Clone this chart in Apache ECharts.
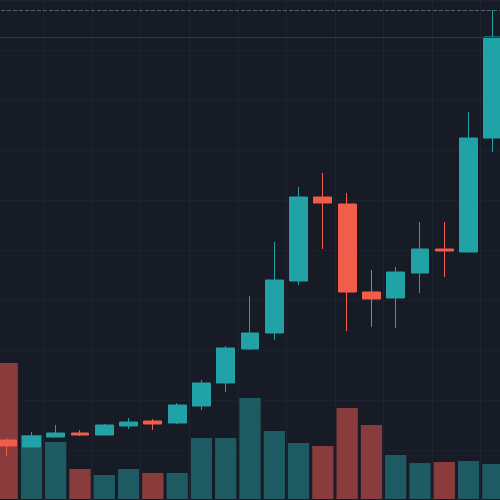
<!DOCTYPE html><html><head><meta charset="utf-8">
<script src="https://cdn.jsdelivr.net/npm/echarts@6/dist/echarts.min.js"></script>
<style>html,body{margin:0;background:#171b26;overflow:hidden}#c{width:510px;height:500px;margin-left:-5px}</style></head><body><div id="c"></div>
<script>
const categories = Array.from({length:21},(_,i)=>'D'+(i+1));
// [open, close, low, high] in price units
const candles = [
 [60,54,44,62],[53,64,53,68],[63,67,63,75],[67,65,64,70],[65,75,65,76],
 [74,78,71,82],[79,76,70,81],[77,95,76,97],[94,117,90,120],[117,152,108,154],
 [151,167,150,204],[167,220,160,258],[219,303,215,313],[303,297,251,327],[296,208,169,307],
 [208,201,173,230],[202,228,172,233],[227,251,207,278],[251,249,223,278],[248,362,248,388],[362,463,348,490]
];
const volumes = [138,66,59,32,26,32,28,28,63,63,103,70,58,55,93,76,46,38,39,40,37];
const up = candles.map(c=>c[1]>=c[0]);
const chart = echarts.init(document.getElementById('c'));
chart.setOption({
 backgroundColor:'#171b26', animation:false,
 grid:{left:0,right:0,top:0,bottom:0},
 xAxis:{type:'category',data:categories,axisLine:{show:false},axisTick:{show:false},axisLabel:{show:false},
   splitLine:{show:true,interval:1,lineStyle:{color:'#1e2330'}}},
 yAxis:[{min:0,max:500,interval:50,axisLabel:{show:false},axisLine:{show:false},splitLine:{lineStyle:{color:'#1c212d'}}},
        {min:0,max:500,show:false}],
 series:[
  {type:'bar',yAxisIndex:1,data:volumes.map((v,i)=>({value:v,itemStyle:{color:up[i]?'#1d5a62':'#8a3b3b'}})),barCategoryGap:'4%',itemStyle:{borderColor:'#171b26',borderWidth:1}},
  {type:'candlestick',data:candles,barWidth:'76%',
   itemStyle:{color:'#21a2a6',color0:'#f25c4b',borderColor:'#21a2a6',borderColor0:'#f25c4b'},
   markLine:{symbol:'none',silent:true,label:{show:false},data:[
     {yAxis:490,lineStyle:{color:'#5a5f6a',type:'dashed',width:1}},
     {yAxis:463,lineStyle:{color:'#1d3f48',type:'solid',width:1}}]}}
 ]
});
</script></body></html>
